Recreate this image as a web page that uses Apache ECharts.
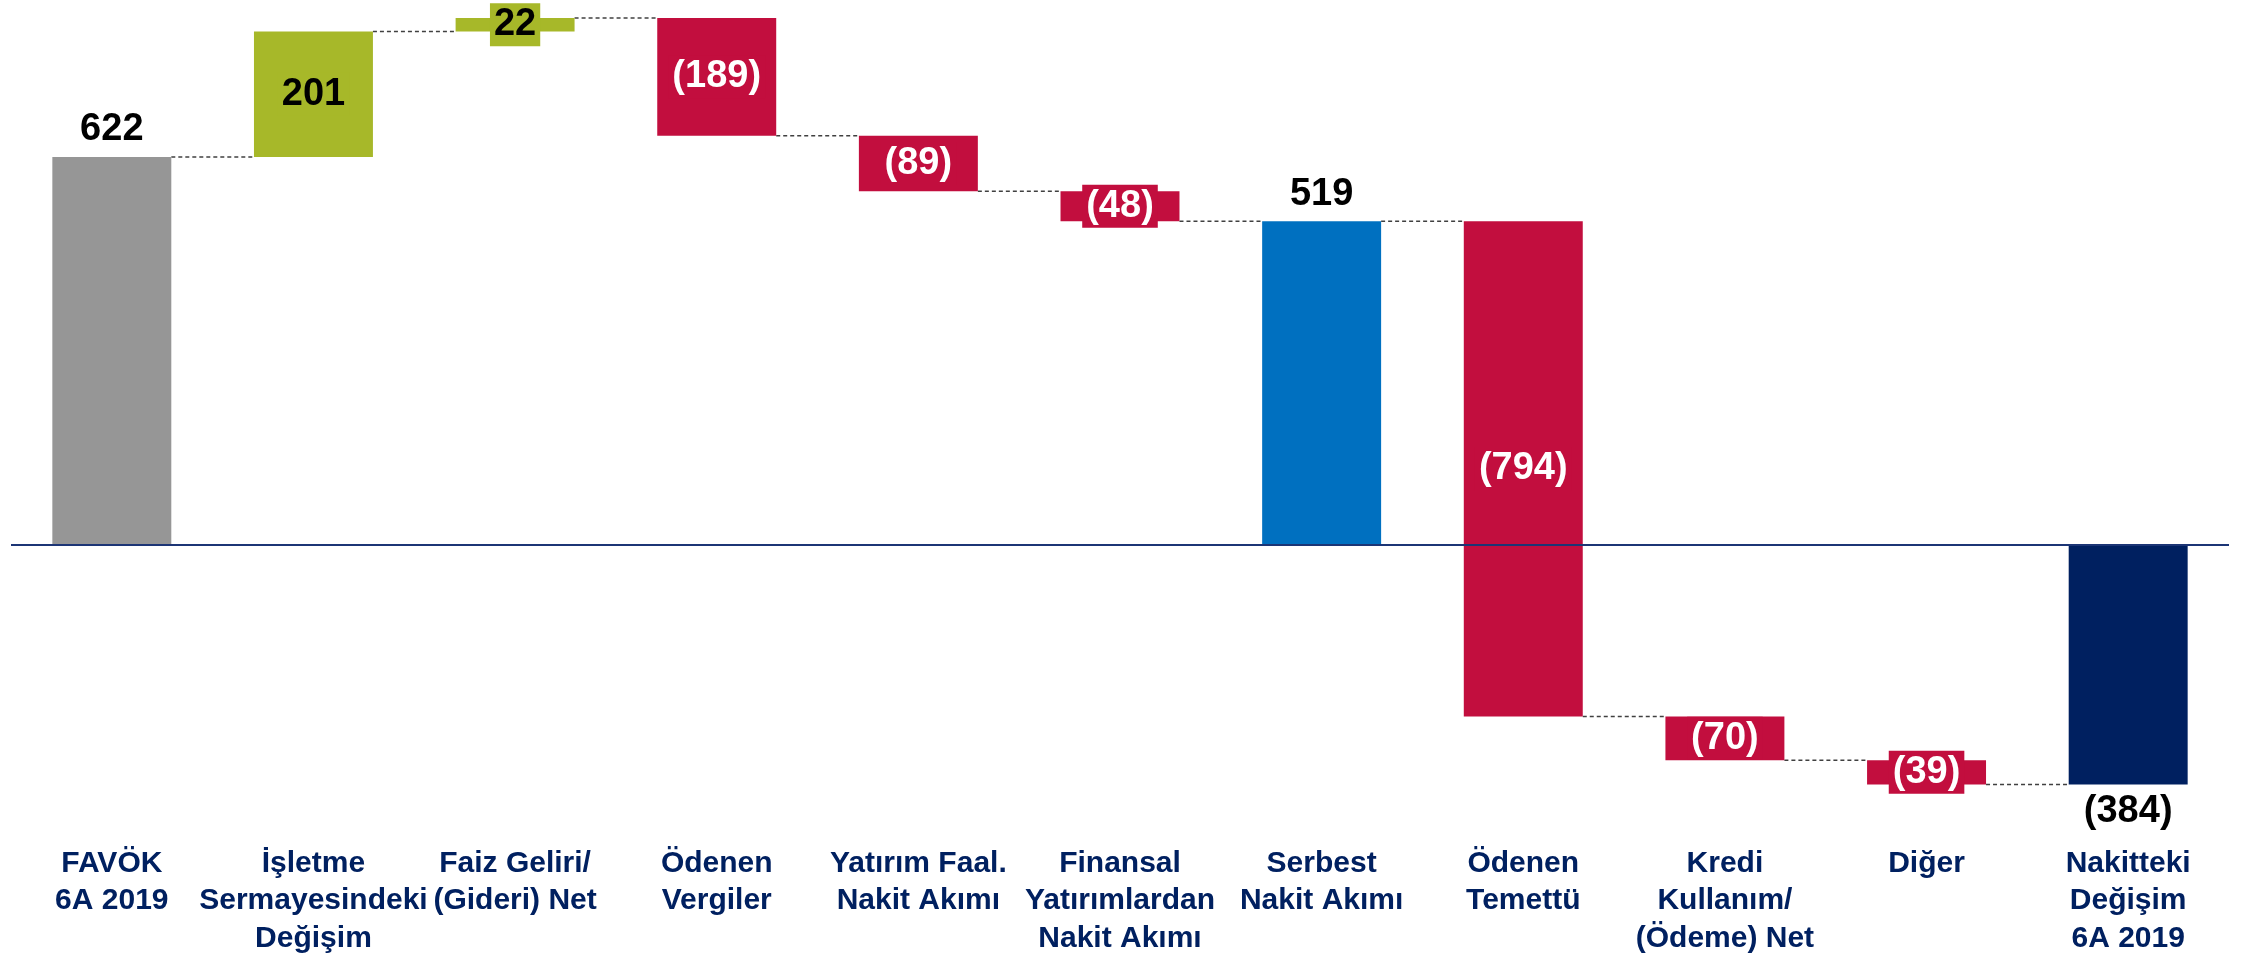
<!DOCTYPE html>
<html>
<head>
<meta charset="utf-8">
<script src="https://cdn.jsdelivr.net/npm/echarts@6/dist/echarts.min.js"></script>
<style>
    html, body { margin: 0; padding: 0; background: #fff; }
    #chart { width: 2242px; height: 959px; }
</style>
</head>
<body>
<div id="chart"></div>
<script>
// chart data
const categories = [
    'FAVÖK\n6A 2019',
    'İşletme\nSermayesindeki\nDeğişim',
    'Faiz Geliri/\n(Gideri) Net',
    'Ödenen\nVergiler',
    'Yatırım Faal.\nNakit Akımı',
    'Finansal\nYatırımlardan\nNakit Akımı',
    'Serbest\nNakit Akımı',
    'Ödenen\nTemettü',
    'Kredi\nKullanım/\n(Ödeme) Net',
    'Diğer',
    'Nakitteki\nDeğişim\n6A 2019'
];
const values = [622, 201, 22, -189, -89, -48, 519, -794, -70, -39, -384];
const isTotal = [true, false, false, false, false, false, true, false, false, false, true];

const barColors = ['#969696', '#a7b829', '#a7b829', '#c20e3e', '#c20e3e', '#c20e3e',
    '#0070c0', '#c20e3e', '#c20e3e', '#c20e3e', '#002060'];
const FONT = '"Liberation Sans", Arial, sans-serif';

// waterfall start / end per bar
const barData = [];
let level = 0;
values.forEach((v, i) => {
    const start = isTotal[i] ? 0 : level;
    const end = isTotal[i] ? v : level + v;
    level = end;
    barData.push([i, start, end, v]);
});
// dashed connector from bar i to bar i+1
const connectorData = barData.slice(0, -1).map(d => [d[0], d[2]]);

function fmt(v) {
    return v < 0 ? '(' + (-v) + ')' : String(v);
}

const chart = echarts.init(document.getElementById('chart'));

chart.setOption({
    animation: false,
    grid: { left: 11, right: 13, top: 2.3, bottom: 164.5 },
    xAxis: {
        type: 'category',
        data: categories,
        axisLine: { show: false },
        axisTick: { show: false },
        axisLabel: {
            interval: 0,
            margin: 50,
            color: '#002060',
            fontFamily: FONT,
            fontWeight: 'bold',
            fontSize: 30,
            lineHeight: 37.5
        }
    },
    yAxis: {
        type: 'value',
        min: -400,
        max: 870,
        show: false
    },
    series: [
        {
            type: 'custom',
            data: connectorData,
            z: 1,
            renderItem(params, api) {
                const i = api.value(0);
                const w = api.size([1, 0])[0] * 0.59;
                const a = api.coord([i, api.value(1)]);
                const b = api.coord([i + 1, api.value(1)]);
                return {
                    type: 'line',
                    shape: { x1: a[0] + w / 2, y1: a[1], x2: b[0] - w / 2, y2: b[1] },
                    style: { stroke: '#404040', lineWidth: 1.5, lineDash: [4, 3] }
                };
            }
        },
        {
            type: 'custom',
            data: barData,
            z: 2,
            renderItem(params, api) {
                const i = api.value(0);
                const v = api.value(3);
                const w = api.size([1, 0])[0] * 0.59;
                const p0 = api.coord([i, api.value(1)]);
                const p1 = api.coord([i, api.value(2)]);
                const top = Math.min(p0[1], p1[1]);
                const bottom = Math.max(p0[1], p1[1]);
                const cx = p0[0];

                let label;
                if (isTotal[i]) {
                    label = {
                        type: 'text',
                        x: cx,
                        y: v >= 0 ? top - 27 : bottom + 27,
                        style: {
                            text: fmt(v), fill: '#000', fontFamily: FONT, fontWeight: 'bold',
                            fontSize: 38, align: 'center', verticalAlign: 'middle'
                        }
                    };
                } else {
                    label = {
                        type: 'text',
                        x: cx,
                        y: (top + bottom) / 2,
                        style: {
                            text: fmt(v), fill: v >= 0 ? '#000' : '#fff', fontFamily: FONT,
                            fontWeight: 'bold', fontSize: 38, align: 'center', verticalAlign: 'middle',
                            backgroundColor: barColors[i], padding: [3, 4, 2, 4]
                        }
                    };
                }
                return {
                    type: 'group',
                    children: [
                        {
                            type: 'rect',
                            shape: { x: cx - w / 2, y: top, width: w, height: bottom - top },
                            style: { fill: barColors[i] }
                        },
                        label
                    ]
                };
            },
            markLine: {
                silent: true,
                symbol: 'none',
                label: { show: false },
                lineStyle: { color: '#1c3575', width: 2, type: 'solid' },
                data: [{ yAxis: 0 }]
            }
        }
    ]
});
</script>
</body>
</html>
